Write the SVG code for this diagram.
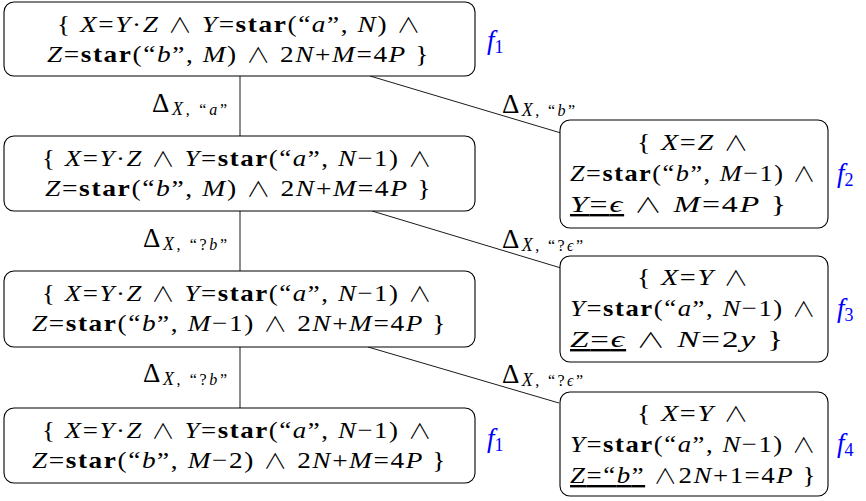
<svg xmlns="http://www.w3.org/2000/svg" width="866" height="501" viewBox="0 0 866 501">
<style>
.bg{fill:#fff}
.box{fill:#fff;stroke:#000;stroke-width:1.1}
.ln{stroke:#000;stroke-width:0.9;fill:none}
.t{font-family:"Liberation Serif","DejaVu Serif",serif;font-size:24px;fill:#000;letter-spacing:1.4px}
.l{font-family:"Liberation Serif","DejaVu Serif",serif;font-size:27px;fill:#000}
.i{font-style:italic}
.b{font-weight:bold}
.w{font-family:"Noto Sans CJK JP",sans-serif;font-weight:300;font-size:21px}
.s{font-size:18px;font-style:italic}
.ss{font-size:16px}
.f{font-family:"Liberation Serif","DejaVu Serif",serif;font-size:27px;font-style:italic;fill:#0000ff}
.u{text-decoration:underline;text-decoration-thickness:1px}
</style>
<rect class="bg" x="0" y="0" width="866" height="501"/>
<g id="connectors">
<line class="ln" x1="240" y1="76" x2="240" y2="136"/>
<line class="ln" x1="240" y1="211" x2="240" y2="271"/>
<line class="ln" x1="240" y1="347" x2="240" y2="408"/>
<line class="ln" x1="370" y1="76" x2="561" y2="133"/>
<line class="ln" x1="372" y1="211" x2="561" y2="268"/>
<line class="ln" x1="368" y1="347" x2="559" y2="403"/>
<text class="l" x="152" y="112" textLength="75" lengthAdjust="spacing">Δ<tspan class="s" dy="3">X</tspan><tspan class="ss">, “</tspan><tspan class="ss i">a</tspan><tspan class="ss">”</tspan></text>
<text class="l" x="502" y="113" textLength="73" lengthAdjust="spacing">Δ<tspan class="s" dy="3">X</tspan><tspan class="ss">, “</tspan><tspan class="ss i">b</tspan><tspan class="ss">”</tspan></text>
<text class="l" x="143" y="247" textLength="84" lengthAdjust="spacing">Δ<tspan class="s" dy="3">X</tspan><tspan class="ss">, “?</tspan><tspan class="ss i">b</tspan><tspan class="ss">”</tspan></text>
<text class="l" x="502" y="248" textLength="81" lengthAdjust="spacing">Δ<tspan class="s" dy="3">X</tspan><tspan class="ss">, “?</tspan><tspan class="ss i">ϵ</tspan><tspan class="ss">”</tspan></text>
<text class="l" x="143" y="382" textLength="84" lengthAdjust="spacing">Δ<tspan class="s" dy="3">X</tspan><tspan class="ss">, “?</tspan><tspan class="ss i">b</tspan><tspan class="ss">”</tspan></text>
<text class="l" x="502" y="383" textLength="81" lengthAdjust="spacing">Δ<tspan class="s" dy="3">X</tspan><tspan class="ss">, “?</tspan><tspan class="ss i">ϵ</tspan><tspan class="ss">”</tspan></text>
</g>
<g id="n1">
<rect class="box" x="4" y="2" width="471" height="74" rx="10"/>
<text class="t" x="57" y="32" textLength="365" lengthAdjust="spacingAndGlyphs">{ <tspan class="i">X</tspan>=<tspan class="i">Y</tspan>·<tspan class="i">Z</tspan> <tspan class="w">∧</tspan> <tspan class="i">Y</tspan>=<tspan class="b">star</tspan>(“<tspan class="i">a</tspan>”, <tspan class="i">N</tspan>) <tspan class="w">∧</tspan></text>
<text class="t" x="47" y="62" textLength="383" lengthAdjust="spacingAndGlyphs"><tspan class="i">Z</tspan>=<tspan class="b">star</tspan>(“<tspan class="i">b</tspan>”, <tspan class="i">M</tspan>) <tspan class="w">∧</tspan> 2<tspan class="i">N</tspan>+<tspan class="i">M</tspan>=4<tspan class="i">P</tspan> }</text>
<text class="f" x="487" y="49">f<tspan font-size="18" font-style="normal" dy="4">1</tspan></text>
</g>
<g id="n2">
<rect class="box" x="4" y="136" width="471" height="75" rx="10"/>
<text class="t" x="42" y="166" textLength="391" lengthAdjust="spacingAndGlyphs">{ <tspan class="i">X</tspan>=<tspan class="i">Y</tspan>·<tspan class="i">Z</tspan> <tspan class="w">∧</tspan> <tspan class="i">Y</tspan>=<tspan class="b">star</tspan>(“<tspan class="i">a</tspan>”, <tspan class="i">N</tspan>−1) <tspan class="w">∧</tspan></text>
<text class="t" x="45" y="196" textLength="387" lengthAdjust="spacingAndGlyphs"><tspan class="i">Z</tspan>=<tspan class="b">star</tspan>(“<tspan class="i">b</tspan>”, <tspan class="i">M</tspan>) <tspan class="w">∧</tspan> 2<tspan class="i">N</tspan>+<tspan class="i">M</tspan>=4<tspan class="i">P</tspan> }</text>
</g>
<g id="n3">
<rect class="box" x="4" y="271" width="471" height="76" rx="10"/>
<text class="t" x="42" y="301" textLength="391" lengthAdjust="spacingAndGlyphs">{ <tspan class="i">X</tspan>=<tspan class="i">Y</tspan>·<tspan class="i">Z</tspan> <tspan class="w">∧</tspan> <tspan class="i">Y</tspan>=<tspan class="b">star</tspan>(“<tspan class="i">a</tspan>”, <tspan class="i">N</tspan>−1) <tspan class="w">∧</tspan></text>
<text class="t" x="32" y="331" textLength="415" lengthAdjust="spacingAndGlyphs"><tspan class="i">Z</tspan>=<tspan class="b">star</tspan>(“<tspan class="i">b</tspan>”, <tspan class="i">M</tspan>−1) <tspan class="w">∧</tspan> 2<tspan class="i">N</tspan>+<tspan class="i">M</tspan>=4<tspan class="i">P</tspan> }</text>
</g>
<g id="n4">
<rect class="box" x="4" y="408" width="471" height="75" rx="10"/>
<text class="t" x="42" y="438" textLength="391" lengthAdjust="spacingAndGlyphs">{ <tspan class="i">X</tspan>=<tspan class="i">Y</tspan>·<tspan class="i">Z</tspan> <tspan class="w">∧</tspan> <tspan class="i">Y</tspan>=<tspan class="b">star</tspan>(“<tspan class="i">a</tspan>”, <tspan class="i">N</tspan>−1) <tspan class="w">∧</tspan></text>
<text class="t" x="32" y="468" textLength="415" lengthAdjust="spacingAndGlyphs"><tspan class="i">Z</tspan>=<tspan class="b">star</tspan>(“<tspan class="i">b</tspan>”, <tspan class="i">M</tspan>−2) <tspan class="w">∧</tspan> 2<tspan class="i">N</tspan>+<tspan class="i">M</tspan>=4<tspan class="i">P</tspan> }</text>
<text class="f" x="487" y="447">f<tspan font-size="18" font-style="normal" dy="4">1</tspan></text>
</g>
<g id="n5">
<rect class="box" x="560" y="120" width="268" height="108" rx="10"/>
<text class="t" x="637" y="150" textLength="113" lengthAdjust="spacingAndGlyphs">{ <tspan class="i">X</tspan>=<tspan class="i">Z</tspan> <tspan class="w">∧</tspan></text>
<text class="t" x="570" y="181" textLength="247" lengthAdjust="spacingAndGlyphs"><tspan class="i">Z</tspan>=<tspan class="b">star</tspan>(“<tspan class="i">b</tspan>”, <tspan class="i">M</tspan>−1) <tspan class="w">∧</tspan></text>
<text class="t" x="570" y="212" textLength="218" lengthAdjust="spacingAndGlyphs"><tspan class="u"><tspan class="i">Y</tspan>=<tspan class="i">ϵ</tspan></tspan> <tspan class="w">∧</tspan> <tspan class="i">M</tspan>=4<tspan class="i">P</tspan> }</text>
<text class="f" x="837" y="182">f<tspan font-size="18" font-style="normal" dy="4">2</tspan></text>
</g>
<g id="n6">
<rect class="box" x="560" y="256" width="268" height="106" rx="10"/>
<text class="t" x="637" y="285" textLength="113" lengthAdjust="spacingAndGlyphs">{ <tspan class="i">X</tspan>=<tspan class="i">Y</tspan> <tspan class="w">∧</tspan></text>
<text class="t" x="570" y="316" textLength="247" lengthAdjust="spacingAndGlyphs"><tspan class="i">Y</tspan>=<tspan class="b">star</tspan>(“<tspan class="i">a</tspan>”, <tspan class="i">N</tspan>−1) <tspan class="w">∧</tspan></text>
<text class="t" x="570" y="347" textLength="215" lengthAdjust="spacingAndGlyphs"><tspan class="u"><tspan class="i">Z</tspan>=<tspan class="i">ϵ</tspan></tspan> <tspan class="w">∧</tspan> <tspan class="i">N</tspan>=2<tspan class="i">y</tspan> }</text>
<text class="f" x="837" y="317">f<tspan font-size="18" font-style="normal" dy="4">3</tspan></text>
</g>
<g id="n7">
<rect class="box" x="560" y="392" width="268" height="104" rx="10"/>
<text class="t" x="637" y="421" textLength="113" lengthAdjust="spacingAndGlyphs">{ <tspan class="i">X</tspan>=<tspan class="i">Y</tspan> <tspan class="w">∧</tspan></text>
<text class="t" x="570" y="452" textLength="247" lengthAdjust="spacingAndGlyphs"><tspan class="i">Y</tspan>=<tspan class="b">star</tspan>(“<tspan class="i">a</tspan>”, <tspan class="i">N</tspan>−1) <tspan class="w">∧</tspan></text>
<text class="t" x="570" y="483" textLength="247" lengthAdjust="spacingAndGlyphs"><tspan class="u"><tspan class="i">Z</tspan>=“<tspan class="i">b</tspan>”</tspan> <tspan class="w">∧</tspan>2<tspan class="i">N</tspan>+1=4<tspan class="i">P</tspan> }</text>
<text class="f" x="837" y="452">f<tspan font-size="18" font-style="normal" dy="4">4</tspan></text>
</g>
</svg>
